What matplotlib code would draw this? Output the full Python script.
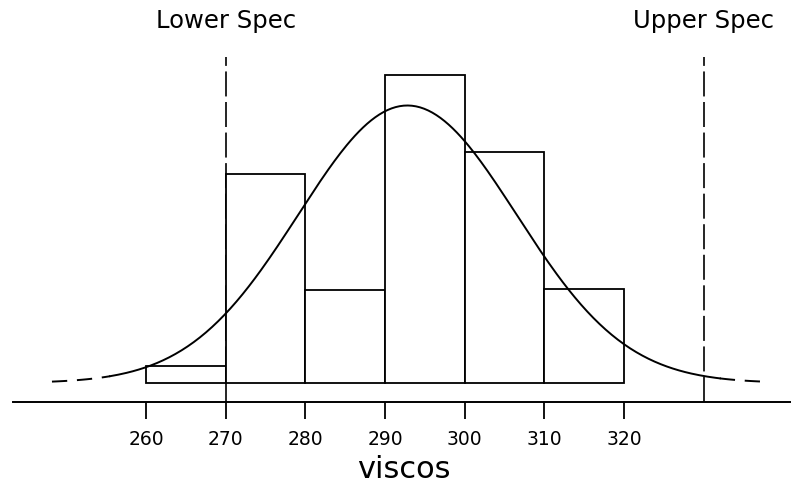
import numpy as np
import matplotlib
matplotlib.use("Agg")
import matplotlib.pyplot as plt

# histogram of viscosity (percent of batches per 10-unit bin)
bin_edges = [260, 270, 280, 290, 300, 310, 320]
bin_pct = [1.8, 22.0, 9.8, 32.3, 24.3, 9.9]

# fitted normal
mu = 292.8
sigma = 13.7

# spec limits
lsl = 270
usl = 330
spec_labels = ["Lower Spec", "Upper Spec"]

tick_vals = [260, 270, 280, 290, 300, 310, 320]
x_label = "viscos"

plt.rcParams['lines.scale_dashes'] = False
plt.rcParams['font.family'] = ['DejaVu Sans']

fig = plt.figure(figsize=(7.91, 5.0), dpi=100)
ax = fig.add_axes([0, 0, 1, 1])
ax.set_xlim(241.68, 340.93)
ax.set_ylim(-12.29, 40.23)

# bars
widths = np.diff(bin_edges)
ax.bar(bin_edges[:-1], bin_pct, width=widths, align='edge',
       facecolor='white', edgecolor='black', linewidth=1.3, zorder=2)

# normal curve scaled to the histogram
scale = sum(bin_pct) * widths[0]
def npdf(x):
    return scale * np.exp(-0.5 * ((x - mu) / sigma) ** 2) / (sigma * np.sqrt(2 * np.pi))

x_mid = np.linspace(255.5, 332, 300)
x_lo = np.linspace(248.2, 255.5, 30)
x_hi = np.linspace(332, 337.4, 30)
ax.plot(x_mid, npdf(x_mid), color='black', lw=1.4, zorder=3)
ax.plot(x_lo, npdf(x_lo), color='black', lw=1.4, dashes=(11, 7), zorder=3)
ax.plot(x_hi, npdf(x_hi), color='black', lw=1.4, dashes=(11, 7), zorder=3)

# spec lines
for xs, lab in zip([lsl, usl], spec_labels):
    ax.plot([xs, xs], [-2.0, 34.2], color='black', lw=1.2, dashes=(18, 4), zorder=1)
    ax.text(xs, 38.0, lab, ha='center', va='center', fontsize=17.5)

# x axis
for s in ['top', 'right', 'left']:
    ax.spines[s].set_visible(False)
ax.spines['bottom'].set_position(('data', -2.0))
ax.spines['bottom'].set_bounds(243.3, 340.9)
ax.spines['bottom'].set_linewidth(1.4)
ax.set_xticks(tick_vals)
ax.set_xticklabels([str(t) for t in tick_vals])
ax.tick_params(axis='x', direction='out', length=12, width=1.3, pad=8, labelsize=13.5)
ax.set_yticks([])
ax.text(404 / 791, 1 - 470 / 500, x_label, transform=ax.transAxes,
        ha='center', va='center', fontsize=22)

fig.savefig("out.png", dpi=100)
